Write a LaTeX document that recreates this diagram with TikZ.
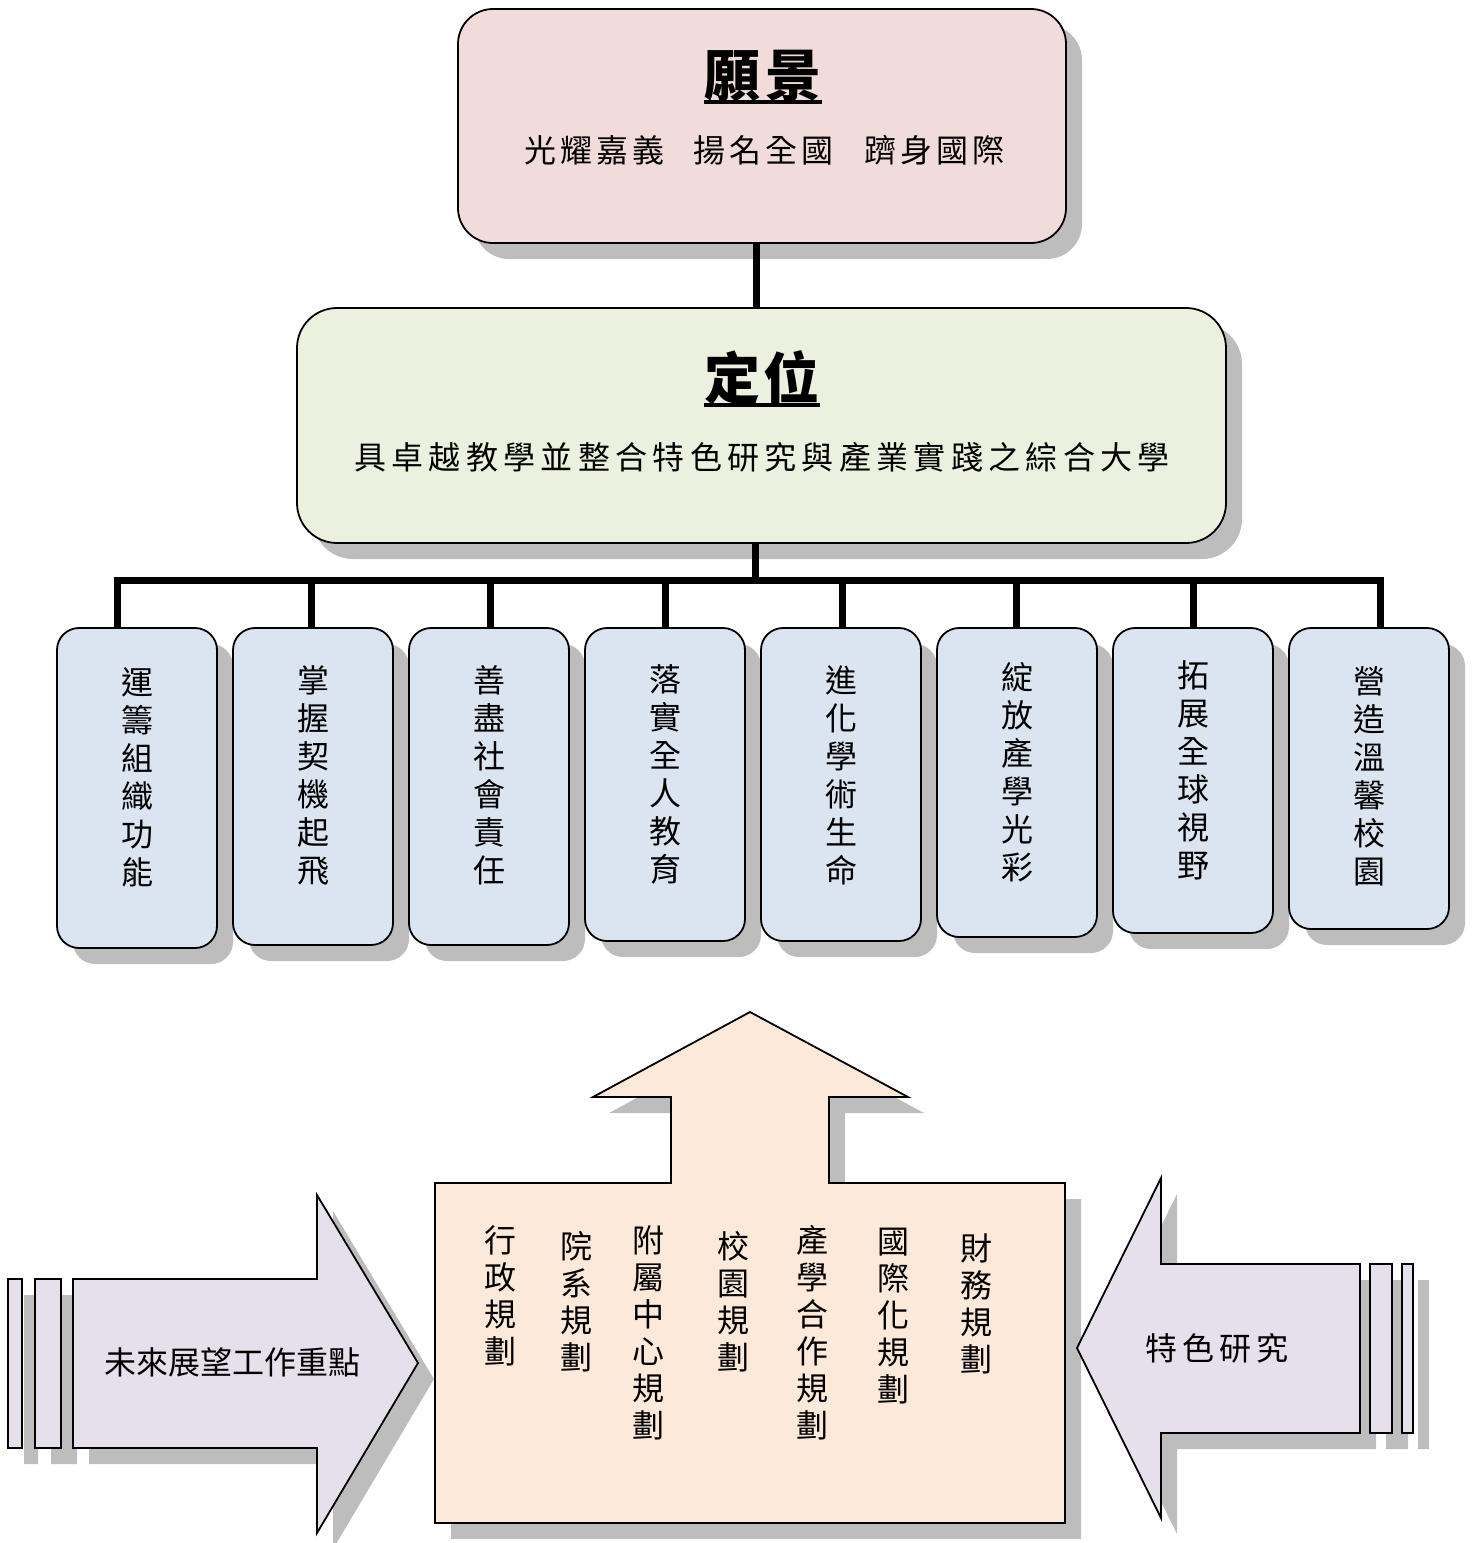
\documentclass[tikz,border=0pt]{standalone}
\usepackage{fontspec}
\setmainfont{Noto Sans CJK TC}
\usetikzlibrary{shadows}
\definecolor{pinkc}{HTML}{F2DCDB}
\definecolor{greenc}{HTML}{EBF1DE}
\definecolor{bluec}{HTML}{DBE5F1}
\definecolor{peachc}{HTML}{FDE9D9}
\definecolor{lavc}{HTML}{E5E0EC}
\definecolor{shadowc}{HTML}{BDBDBD}
\newdimen\cjkgap
\def\spaced#1{\spacedfirst#1\relax}
\def\spacedfirst#1{#1\spacedi}
\def\spacedi#1{\ifx#1\relax\else\kern\cjkgap#1\expandafter\spacedi\fi}
\def\wsp{\kern22pt}
\def\bigarrowpath{(435,1183) -- (671,1183) -- (671,1097) -- (593,1097) -- (750,1012) -- (908,1097) -- (829,1097) -- (829,1183) -- (1065,1183) -- (1065,1523) -- (435,1523) -- cycle}
\def\leftarrowpath{(73,1279) -- (317,1279) -- (317,1195) -- (418,1363) -- (317,1533) -- (317,1448) -- (73,1448) -- cycle}
\def\leftstripes{(8,1279) rectangle (22,1448) (35,1279) rectangle (61,1448)}
\def\rightarrowpath{(1360,1264) -- (1161,1264) -- (1161,1178) -- (1077,1348) -- (1161,1518) -- (1161,1433) -- (1360,1433) -- cycle}
\def\rightstripes{(1370,1264) rectangle (1392,1433) (1402,1264) rectangle (1413,1433)}
\begin{document}
\begin{tikzpicture}[x=1pt,y=-1pt,
  shad/.style={drop shadow={shadow xshift=16pt,shadow yshift=-16pt,fill=shadowc,opacity=1}},
  rbox/.style={draw=black,line width=1.8pt,rounded corners=#1,shad,inner sep=0pt},
  sbox/.style={rbox=22pt,fill=bluec,minimum width=160pt},
  conn/.style={line width=7pt},
  uline/.style={line width=3.5pt},
  shapeline/.style={draw=black,line width=1.8pt,line join=miter},
  txt/.style={inner sep=0pt,font=\fontsize{32}{38}\selectfont,align=center},
  coltxt/.style={inner sep=0pt,font=\fontsize{32}{37}\selectfont,align=center,anchor=north},
  ttl/.style={inner sep=0pt,font=\fontsize{56}{56}\selectfont\bfseries}
]
\useasboundingbox (0,0) rectangle (1474,1543);

% --- top boxes
\node[rbox=35pt,fill=pinkc,minimum width=608pt,minimum height=234pt] (vision) at (762,126) {};
\node[rbox=40pt,fill=greenc,minimum width=929pt,minimum height=235pt] (pos) at (761.5,425.5) {};

\node[ttl] (vt) at (763,76) {\cjkgap=6pt\spaced{願景}};
\coordinate (vul) at (0,102);
\draw[uline] (vt.west |- vul) -- (vt.east |- vul);
\node[txt] (vs) at (764,150) {\cjkgap=4pt\spaced{光耀嘉義\wsp 揚名全國\wsp 躋身國際}};

\node[ttl] (pt) at (762,378) {\cjkgap=4pt\spaced{定位}};
\coordinate (pul) at (0,405);
\draw[uline] (pt.west |- pul) -- (pt.east |- pul);
\node[txt] (ps) at (762,457) {\cjkgap=5.3pt\spaced{具卓越教學並整合特色研究與產業實踐之綜合大學}};

% --- eight boxes
\node[sbox,minimum height=320pt] (b1) at (137,788) {};
\node[sbox,minimum height=317pt] (b2) at (313,786.5) {};
\node[sbox,minimum height=317pt] (b3) at (489,786.5) {};
\node[sbox,minimum height=313pt] (b4) at (665,784.5) {};
\node[sbox,minimum height=313pt] (b5) at (841,784.5) {};
\node[sbox,minimum height=309pt] (b6) at (1017,782.5) {};
\node[sbox,minimum height=305pt] (b7) at (1193,780.5) {};
\node[sbox,minimum height=301pt] (b8) at (1369,778.5) {};

\node[txt,anchor=north] (t1) at (137,667) {運\\籌\\組\\織\\功\\能};
\node[txt,anchor=north] (t2) at (313,665) {掌\\握\\契\\機\\起\\飛};
\node[txt,anchor=north] (t3) at (489,665) {善\\盡\\社\\會\\責\\任};
\node[txt,anchor=north] (t4) at (665,664) {落\\實\\全\\人\\教\\育};
\node[txt,anchor=north] (t5) at (841,665) {進\\化\\學\\術\\生\\命};
\node[txt,anchor=north] (t6) at (1017,662) {綻\\放\\產\\學\\光\\彩};
\node[txt,anchor=north] (t7) at (1193,660) {拓\\展\\全\\球\\視\\野};
\node[txt,anchor=north] (t8) at (1369,666) {營\\造\\溫\\馨\\校\\園};

% --- connectors
\draw[conn] ([xshift=-6pt]vision.south) -- ([xshift=-6pt]vision.south |- pos.north);
\coordinate (busL) at (113.5,580);
\coordinate (busR) at (1384,580);
\draw[conn] ([xshift=-6pt]pos.south) -- ([xshift=-6pt]pos.south |- busL);
\draw[conn] (busL) -- (busR);
\foreach \n/\dx in {1/-20,2/-2,3/1,4/0,5/1,6/-1,7/0,8/11}
  \draw[conn] ([xshift=\dx pt]b\n.north) -- ([xshift=\dx pt]b\n.north |- busL);

% --- big up arrow
\fill[shadowc,shift={(16,16)}] \bigarrowpath;
\path[shapeline,fill=peachc] \bigarrowpath;
\node[coltxt] (c1) at (500,1225) {行\\政\\規\\劃};
\node[coltxt] (c2) at (576,1231) {院\\系\\規\\劃};
\node[coltxt] (c3) at (648,1225) {附\\屬\\中\\心\\規\\劃};
\node[coltxt] (c4) at (733,1231) {校\\園\\規\\劃};
\node[coltxt] (c5) at (812,1225) {產\\學\\合\\作\\規\\劃};
\node[coltxt] (c6) at (893,1228) {國\\際\\化\\規\\劃};
\node[coltxt] (c7) at (976,1233) {財\\務\\規\\劃};

% --- left arrow
\fill[shadowc,shift={(16,16)}] \leftarrowpath;
\fill[shadowc,shift={(16,16)}] \leftstripes;
\path[shapeline,fill=lavc] \leftstripes;
\path[shapeline,fill=lavc] \leftarrowpath;
\node[txt] (lt) at (232,1362) {\cjkgap=0pt\spaced{未來展望工作重點}};

% --- right arrow
\fill[shadowc,shift={(16,16)}] \rightarrowpath;
\fill[shadowc,shift={(16,16)}] \rightstripes;
\path[shapeline,fill=lavc] \rightstripes;
\path[shapeline,fill=lavc] \rightarrowpath;
\node[txt] (rt) at (1217,1348) {\cjkgap=5pt\spaced{特色研究}};
\end{tikzpicture}
\end{document}
